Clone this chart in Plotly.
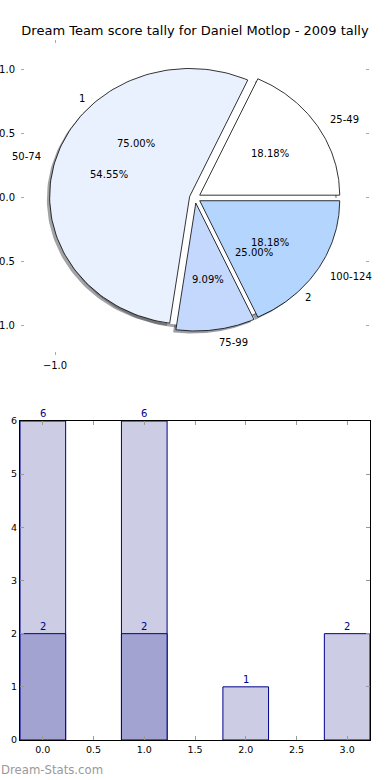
import numpy as np
import plotly.graph_objects as go

# ---------------- data ----------------
title_text = "Dream Team score tally for Daniel Motlop - 2009 tally"

outer_labels = ["25-49", "50-74", "75-99", "100-124"]
outer_values = [2, 6, 1, 2]
outer_colors = ["#FFFFFF", "#EAF1FE", "#C4D8FE", "#B3D5FE"]

inner_labels = ["1", "2"]
inner_values = [6, 2]
inner_colors = ["#FFFFFF", "#FFFFFF"]

bar_x = [0, 1, 2, 3]
bar_light = [6, 6, 1, 2]
bar_dark_x = [0, 1]
bar_dark = [2, 2]

pie_ytick_vals = [-1.0, -0.5, 0.0, 0.5, 1.0]
pie_ytick_text = ["\u22121.0", "\u22120.5", "0.0", "0.5", "1.0"]
pie_xtick_vals = [-1.0]
pie_xtick_text = ["\u22121.0"]

bar_xtick_vals = [0, 0.5, 1, 1.5, 2, 2.5, 3]
bar_ytick_vals = [0, 1, 2, 3, 4, 5, 6]

watermark = "Dream-Stats.com"

# ---------------- style ----------------
FONT = "DejaVu Sans"
EXPLODE_OUTER = 0.04
EXPLODE_INNER = 0.0
SHADOW = 0.02
W, H = 390, 780

fig = go.Figure()
annotations = []


def wedge_xy(t1, t2, shift):
    mid = np.radians((t1 + t2) / 2.0)
    cx, cy = shift * np.cos(mid), shift * np.sin(mid)
    th = np.radians(np.linspace(t1, t2, 120))
    xs = np.concatenate([[cx], cx + np.cos(th), [cx]])
    ys = np.concatenate([[cy], cy + np.sin(th), [cy]])
    return xs, ys, cx, cy, mid


def pie_geometry(values, shift):
    total = float(sum(values))
    out = []
    start = 0.0
    for v in values:
        span = 360.0 * v / total
        out.append(wedge_xy(start, start + span, shift) + (100.0 * v / total,))
        start += span
    return out


def hex_to_rgb(h):
    h = h.lstrip("#")
    return tuple(int(h[i:i + 2], 16) for i in (0, 2, 4))


inner_geo = pie_geometry(inner_values, EXPLODE_INNER)
outer_geo = pie_geometry(outer_values, EXPLODE_OUTER)

# shadows (below everything)
for geo, cols in ((inner_geo, inner_colors), (outer_geo, outer_colors)):
    for (xs, ys, cx, cy, mid, pct), c in zip(geo, cols):
        r, g, b = hex_to_rgb(c)
        fig.add_trace(go.Scatter(
            x=xs - SHADOW, y=ys - SHADOW, mode="lines", fill="toself",
            fillcolor=f"rgba({int(r*0.3)},{int(g*0.3)},{int(b*0.3)},0.5)",
            line=dict(width=0), hoverinfo="skip", xaxis="x", yaxis="y"))

# inner pie wedges
for (xs, ys, cx, cy, mid, pct), c in zip(inner_geo, inner_colors):
    fig.add_trace(go.Scatter(
        x=xs, y=ys, mode="lines", fill="toself", fillcolor=c,
        line=dict(width=0), hoverinfo="skip", xaxis="x", yaxis="y"))

# outer pie wedges
for (xs, ys, cx, cy, mid, pct), c in zip(outer_geo, outer_colors):
    fig.add_trace(go.Scatter(
        x=xs, y=ys, mode="lines", fill="toself", fillcolor=c,
        line=dict(color="black", width=0.8), hoverinfo="skip",
        xaxis="x", yaxis="y"))

# pie labels (matplotlib style: label at 1.1 r, pct at 0.6 r)
for geo, labels in ((inner_geo, inner_labels), (outer_geo, outer_labels)):
    for (xs, ys, cx, cy, mid, pct), lab in zip(geo, labels):
        lx = cx + 1.1 * np.cos(mid)
        ly = cy + 1.1 * np.sin(mid)
        annotations.append(dict(
            x=lx, y=ly, xref="x", yref="y", text=lab, showarrow=False,
            xanchor="left" if lx > 0 else "right", yanchor="middle",
            font=dict(family=FONT, size=10, color="black"), borderpad=0))
        px_ = cx + 0.6 * np.cos(mid)
        py_ = cy + 0.6 * np.sin(mid)
        annotations.append(dict(
            x=px_, y=py_, xref="x", yref="y", text=f"{pct:.2f}%",
            showarrow=False, xanchor="center", yanchor="middle",
            font=dict(family=FONT, size=10, color="black"), borderpad=0))

# bars
fig.add_trace(go.Bar(
    x=bar_x, y=bar_light, width=0.45, marker=dict(
        color="#CCCCE5", line=dict(color="#00008B", width=1)),
    xaxis="x2", yaxis="y2", hoverinfo="skip"))
fig.add_trace(go.Bar(
    x=bar_dark_x, y=bar_dark, width=0.45, marker=dict(
        color="#A3A3D1", line=dict(color="#00008B", width=1)),
    xaxis="x2", yaxis="y2", hoverinfo="skip"))

for xs_, vs_ in ((bar_x, bar_light), (bar_dark_x, bar_dark)):
    for xv, v in zip(xs_, vs_):
        annotations.append(dict(
            x=xv, y=v, xref="x2", yref="y2", text=str(v), showarrow=False,
            xanchor="center", yanchor="bottom", yshift=1,
            font=dict(family=FONT, size=10, color="#00008B"), borderpad=0))

annotations.append(dict(
    x=0, y=1 - 770 / H, xref="paper", yref="paper", text=watermark,
    showarrow=False, xanchor="left", yanchor="middle",
    font=dict(family=FONT, size=11.7, color="#999999"), borderpad=0))

common = dict(showgrid=False, zeroline=False, automargin=False)

fig.update_layout(
    width=W, height=H, margin=dict(l=0, r=0, t=0, b=0, autoexpand=False),
    paper_bgcolor="white", plot_bgcolor="white", showlegend=False,
    barmode="overlay",
    font=dict(family=FONT, size=10, color="black"),
    title=dict(text=title_text, x=0.5, xanchor="center", y=1 - 30 / H,
               yanchor="middle", automargin=False,
               font=dict(family=FONT, size=13, color="black")),
    xaxis=dict(domain=[21 / W, 369 / W], anchor="y", range=[-1.243, 1.243],
               tickvals=pie_xtick_vals, ticktext=pie_xtick_text,
               ticks="inside", ticklen=3, tickcolor="#aaaaaa", mirror="ticks",
               ticklabelstandoff=3,
               showline=False, tickfont=dict(family=FONT, size=10), **common),
    yaxis=dict(domain=[1 - 355 / H, 1 - 40 / H], anchor="x", range=[-1.227, 1.234],
               tickvals=pie_ytick_vals, ticktext=pie_ytick_text,
               ticks="inside", ticklen=3, tickcolor="#aaaaaa", mirror="ticks",
               ticklabelstandoff=5,
               showline=False, tickfont=dict(family=FONT, size=10), **common),
    xaxis2=dict(domain=[20 / W, 370 / W], anchor="y2", range=[-0.225, 3.225],
                tickvals=bar_xtick_vals, ticktext=[f"{v:.1f}" for v in bar_xtick_vals],
                ticks="inside", ticklen=4, tickcolor="#999999", mirror="ticks",
                ticklabelstandoff=1,
                showline=True, linecolor="black", linewidth=1,
                tickfont=dict(family=FONT, size=9.5), **common),
    yaxis2=dict(domain=[1 - 740 / H, 1 - 421 / H], anchor="x2", range=[0, 6],
                tickvals=bar_ytick_vals, ticktext=[str(v) for v in bar_ytick_vals],
                ticks="inside", ticklen=4, tickcolor="#999999", mirror="ticks",
                showline=True, linecolor="black", linewidth=1,
                tickfont=dict(family=FONT, size=9.5), **common),
    annotations=annotations,
)

fig.write_html("out.html",
               config={"displayModeBar": False, "staticPlot": True},
               post_script="document.body.style.margin='0';"
                           "document.body.style.overflow='hidden';"
                           "document.documentElement.style.overflow='hidden';")
